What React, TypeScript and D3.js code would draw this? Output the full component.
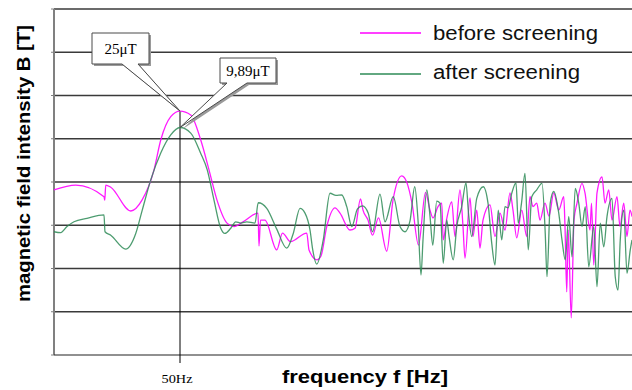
import React, { useEffect, useRef } from 'react';
import * as d3 from 'd3';

// [frequency (Hz), level]
const beforeScreening: [number, number][] = [
  [-0.4, 3.82], [8.3, 3.93], [19.6, 3.66], [19.9, 3.58], [20.3, 3.93], [22.3, 3.88], [30.3, 3.33], [34.8, 3.58],
  [39.6, 4.28], [42.3, 4.97], [46.3, 5.51], [50, 5.64], [54.3, 5.55], [58.3, 4.97], [61.6, 4.28], [64.8, 3.58],
  [68.8, 3.05], [71.6, 2.97], [75.2, 3.08], [81.2, 3.28], [81.6, 2.52], [82.2, 3.12], [84, 3.12], [88.7, 2.43],
  [91, 2.82], [94.2, 2.62], [100.7, 2.82], [101.6, 2.43], [104.8, 2.2], [106.4, 2.29], [108.7, 2.97], [112, 3.4],
  [114, 3.28], [118, 2.89], [120, 2.93], [122.2, 3.61], [123.2, 3.35], [125.2, 3.12], [127, 2.77], [129.4, 3.17],
  [132.7, 2.4], [135.2, 3.58], [138.7, 4.14], [140.8, 3.98], [142.8, 3.51], [145.4, 2.54], [148.2, 3.76], [150, 3.35],
  [151.2, 3.17], [153.2, 3.43], [154.7, 3.51], [155.3, 2.66], [156.6, 3.12], [158.7, 3.54], [160, 2.74], [162, 3.82],
  [163.2, 2.97], [164, 2.24], [166, 3.63], [167.2, 2.74], [168.7, 3.35], [170, 2.47], [171.2, 3.12], [174, 3.47],
  [176, 2.74], [178, 3.28], [180, 2.89], [182, 3.75], [183.2, 3.35], [184.7, 2.71], [186.7, 3.35], [188.7, 2.74],
  [190, 3.66], [191.2, 3.43], [192.7, 3.51], [194, 3.12], [196, 3.51], [197.6, 3.21], [199.5, 3.75], [201.5, 3.35],
  [203.5, 3.66], [204, 2.97], [204.7, 1.46], [205.3, 2.89], [206.5, 0.86], [207.6, 3.12], [208.8, 3.51], [210.8, 3.97],
  [212, 3.75], [214, 2.89], [214.6, 3.51], [215.5, 2.08], [216.8, 3.75], [218.8, 4.12], [220, 3.51], [221.5, 3.82],
  [222.8, 3.12], [224.8, 3.66], [226, 2.97], [227.5, 3.51], [228.8, 2.74], [230, 3.35], [230.8, 3.2]
];

const afterScreening: [number, number][] = [
  [-0.4, 2.85], [2.3, 2.83], [4.8, 2.97], [7.6, 3.08], [12.8, 3.16], [19.6, 3.24], [20, 2.85], [22.3, 2.77],
  [28.3, 2.45], [32.3, 2.81], [34.9, 3.35], [38.3, 4.05], [42.3, 4.67], [46.3, 5.09], [50, 5.26], [54.3, 5.13],
  [58.3, 4.66], [60.9, 4.28], [63.6, 3.58], [66.3, 2.93], [67.9, 2.81], [70.3, 2.93], [72.3, 3.08], [74.3, 3.05],
  [76.7, 3.08], [80, 3.05], [81.3, 3.52], [84.7, 3.39], [88.7, 2.91], [92.7, 2.47], [95.3, 2.81], [98, 3.39],
  [100, 3.28], [102, 2.89], [103.1, 2.43], [104.7, 2.1], [107.3, 2.66], [110, 3.74], [112.4, 3.69], [114.7, 3.7],
  [116.7, 3.43], [118.7, 2.97], [121, 3.38], [123, 3.45], [125.3, 3.28], [127, 2.85], [130, 3.72], [132, 3.08],
  [135.3, 3.66], [138, 2.97], [140, 2.85], [142, 3.1], [143.9, 3.89], [145.2, 3.12], [146.4, 1.85], [147.2, 2.66],
  [148.7, 3.82], [150, 3.21], [151.1, 2.54], [152.7, 3.56], [154, 3.51], [155.3, 2.12], [156.7, 3.12], [157.6, 2.75],
  [159.3, 2.2], [160.7, 2.97], [162.7, 3.43], [164.4, 3.98], [165.4, 3.28], [166.7, 2.74], [168.7, 3.62], [171.3, 3.89],
  [173.2, 3.51], [174.7, 2.58], [176, 2.08], [177.3, 3.35], [178.7, 2.66], [180, 3.43], [181.2, 3.4], [182.7, 3.74],
  [184.4, 3.98], [185.3, 3.05], [186.6, 3.51], [188, 4.2], [189.3, 2.43], [190.7, 3.66], [192.7, 3.82], [194.8, 3.97],
  [196.1, 2.81], [196.8, 1.81], [198.1, 3.51], [199.5, 3.78], [201.5, 3.28], [202.8, 2.66], [204.1, 2.2], [205.5, 3.2],
  [206.8, 2.27], [208.1, 3.85], [209.5, 3.51], [210.8, 2.97], [212.1, 3.43], [213.5, 2.04], [215.5, 2.97], [216.8, 1.58],
  [218.1, 3.05], [219.5, 2.5], [220.8, 3.2], [222.8, 3.62], [224.1, 1.81], [225.2, 1.5], [226.1, 2.66], [227.5, 3.35],
  [228.8, 1.89], [230.1, 2.43], [230.8, 2.66]
];

const seriesNames = ['before screening', 'after screening'];
const seriesColors = ['#ff00ff', '#2e8b57'];
const peakLabels = ['25μT', '9,89μT'];
const markFrequency = 50;
const markLabel = '50Hz';
const xTitle = 'frequency  f [Hz]';
const yTitle = 'magnetic field intensity B [T]';

const W = 632;
const H = 390;

const App = () => {
  const ref = useRef<SVGSVGElement>(null);

  useEffect(() => {
    const svg = d3.select(ref.current);
    svg.selectAll('*').remove();

    const left = 54, right = 632, top = 9, bottom = 355;
    const x = d3.scaleLinear().domain([-0.4, 230.8]).range([left, right]);
    const y = d3.scaleLinear().domain([0, 8]).range([bottom, top]);
    const sans = "'Liberation Sans', Arial, sans-serif";
    const serif = "'Liberation Serif', 'Times New Roman', serif";

    // grid
    svg.append('g')
      .selectAll('line')
      .data(y.ticks(8).filter(d => d > 0))
      .enter()
      .append('line')
      .attr('x1', left)
      .attr('x2', right)
      .attr('y1', d => y(d))
      .attr('y2', d => y(d))
      .attr('stroke', '#3a3a3a')
      .attr('stroke-width', 1.4);

    // y axis with small ticks
    svg.append('line')
      .attr('x1', left).attr('x2', left)
      .attr('y1', top).attr('y2', bottom)
      .attr('stroke', '#808080').attr('stroke-width', 2);
    svg.append('g')
      .selectAll('line')
      .data(y.ticks(8))
      .enter()
      .append('line')
      .attr('x1', left - 3).attr('x2', left)
      .attr('y1', d => y(d)).attr('y2', d => y(d))
      .attr('stroke', '#808080').attr('stroke-width', 1);

    // x axis
    svg.append('line')
      .attr('x1', left).attr('x2', right)
      .attr('y1', bottom).attr('y2', bottom)
      .attr('stroke', '#222').attr('stroke-width', 1.2);

    const datasets = [beforeScreening, afterScreening];
    const peaks = datasets.map(ds => ds.find(d => d[0] === markFrequency)![1]);

    // 50Hz marker
    svg.append('line')
      .attr('x1', x(markFrequency)).attr('x2', x(markFrequency))
      .attr('y1', y(peaks[0])).attr('y2', bottom + 8)
      .attr('stroke', '#000').attr('stroke-width', 1);
    svg.append('text')
      .attr('x', x(markFrequency) - 3)
      .attr('y', 383)
      .attr('text-anchor', 'middle')
      .attr('textLength', 31)
      .attr('lengthAdjust', 'spacingAndGlyphs')
      .style('font-family', serif)
      .style('font-size', '12.5px')
      .text(markLabel);

    const line = d3.line<[number, number]>()
      .x(d => x(d[0]))
      .y(d => y(d[1]))
      .curve(d3.curveMonotoneX);

    datasets.forEach((ds, i) => {
      svg.append('path')
        .attr('d', line(ds))
        .attr('fill', 'none')
        .attr('stroke', seriesColors[i])
        .attr('stroke-opacity', i === 0 ? 0.9 : 0.85)
        .attr('stroke-width', 1.3);
    });

    // callouts
    const boxes = [
      { bx: 92, by: 33, w: 57, h: 31, p1: 30, p2: 46 },
      { bx: 220, by: 58, w: 56, h: 25, p1: 7, p2: 27 }
    ];
    boxes.forEach((b, i) => {
      const ax = x(markFrequency), ay = y(peaks[i]);
      const p = `M${b.bx},${b.by}H${b.bx + b.w}V${b.by + b.h}H${b.bx + b.p2}L${ax},${ay}L${b.bx + b.p1},${b.by + b.h}H${b.bx}Z`;
      svg.append('path').attr('d', p).attr('transform', 'translate(2,2)').attr('fill', '#9a9a9a');
      svg.append('path').attr('d', p).attr('fill', '#fff').attr('stroke', '#4a4a4a').attr('stroke-width', 1);
      svg.append('text')
        .attr('x', b.bx + b.w / 2)
        .attr('y', b.by + b.h / 2 + 5)
        .attr('text-anchor', 'middle')
        .style('font-family', serif)
        .style('font-size', '15px')
        .text(peakLabels[i]);
    });

    // legend
    const legendWidths = [165, 147];
    seriesNames.forEach((name, i) => {
      const ly = 33 + i * 41;
      svg.append('line')
        .attr('x1', 360).attr('x2', 421)
        .attr('y1', ly).attr('y2', ly)
        .attr('stroke', seriesColors[i]).attr('stroke-width', 1.5);
      svg.append('text')
        .attr('x', 433).attr('y', 40 + i * 39)
        .attr('textLength', legendWidths[i])
        .attr('lengthAdjust', 'spacingAndGlyphs')
        .style('font-family', sans)
        .style('font-size', '19.5px')
        .style('fill', '#111')
        .text(name);
    });

    // axis titles
    svg.append('text')
      .attr('x', 282).attr('y', 383)
      .attr('textLength', 166)
      .attr('lengthAdjust', 'spacingAndGlyphs')
      .style('font-family', sans)
      .style('font-weight', 'bold')
      .style('font-size', '17.5px')
      .text(xTitle);
    svg.append('text')
      .attr('transform', `translate(30,164) rotate(-90)`)
      .attr('x', -138)
      .attr('textLength', 277)
      .attr('lengthAdjust', 'spacingAndGlyphs')
      .style('font-family', sans)
      .style('font-weight', 'bold')
      .style('font-size', '18px')
      .text(yTitle);
  }, []);

  return (
    <svg ref={ref} width={W} height={H}
      style={{ position: 'absolute', left: 0, top: 0, background: '#fff', display: 'block' }} />
  );
};

export default App;
